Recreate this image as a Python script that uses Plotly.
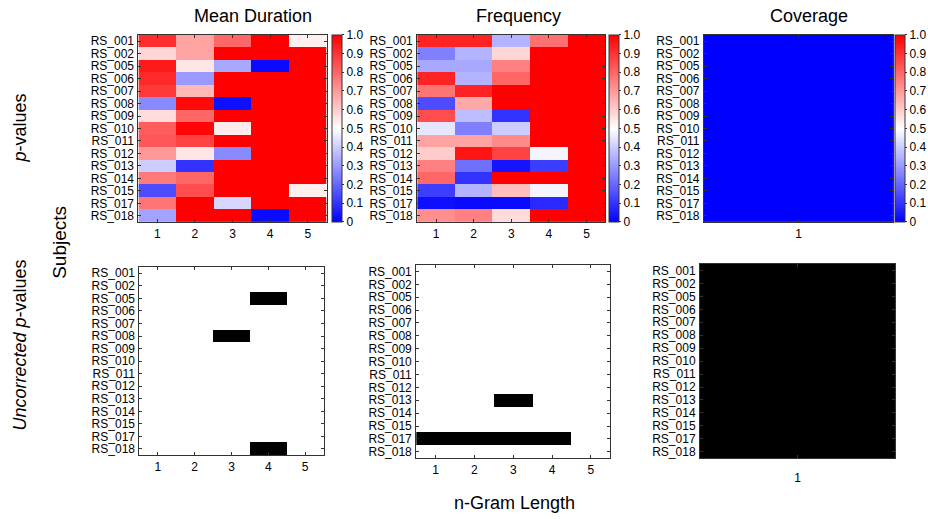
import plotly.graph_objects as go

W, H = 928, 519

subjects = ["RS_001", "RS_002", "RS_005", "RS_006", "RS_007", "RS_008", "RS_009",
            "RS_010", "RS_011", "RS_012", "RS_013", "RS_014", "RS_015", "RS_017", "RS_018"]
ngram = [1, 2, 3, 4, 5]
coverage_x = [1]

mean_duration_p = [
    [0.91, 0.68, 0.80, 1.00, 0.53],
    [0.58, 0.68, 1.00, 1.00, 1.00],
    [0.95, 0.55, 0.33, 0.02, 1.00],
    [0.92, 0.30, 1.00, 1.00, 1.00],
    [0.89, 0.64, 1.00, 1.00, 1.00],
    [0.27, 0.98, 0.03, 1.00, 1.00],
    [0.57, 0.80, 1.00, 1.00, 1.00],
    [0.82, 0.99, 0.54, 1.00, 1.00],
    [0.83, 0.87, 1.00, 1.00, 1.00],
    [0.70, 0.55, 0.27, 1.00, 1.00],
    [0.40, 0.10, 1.00, 1.00, 1.00],
    [0.76, 0.80, 1.00, 1.00, 1.00],
    [0.15, 0.85, 1.00, 1.00, 0.53],
    [0.77, 1.00, 0.42, 1.00, 1.00],
    [0.32, 1.00, 1.00, 0.02, 1.00],
]

frequency_p = [
    [0.93, 0.93, 0.35, 0.78, 1.00],
    [0.25, 0.35, 0.58, 1.00, 1.00],
    [0.33, 0.33, 0.75, 1.00, 1.00],
    [0.93, 0.35, 0.80, 1.00, 1.00],
    [0.77, 0.93, 1.00, 1.00, 1.00],
    [0.15, 0.67, 1.00, 1.00, 1.00],
    [0.85, 0.37, 0.10, 1.00, 1.00],
    [0.45, 0.25, 0.40, 1.00, 1.00],
    [0.68, 0.68, 0.73, 1.00, 1.00],
    [0.60, 0.96, 0.87, 0.48, 1.00],
    [0.75, 0.22, 0.04, 0.12, 1.00],
    [0.80, 0.10, 1.00, 1.00, 1.00],
    [0.12, 0.35, 0.63, 0.48, 1.00],
    [0.03, 0.02, 0.02, 0.08, 1.00],
    [0.72, 0.75, 0.57, 1.00, 1.00],
]

coverage_p = [[0.0], [0.0], [0.0], [0.0], [0.0], [0.0], [0.0], [0.0],
              [0.0], [0.0], [0.0], [0.0], [0.0], [0.0], [0.0]]

# uncorrected significance (1 = significant -> black)
mean_duration_sig = [
    [0, 0, 0, 0, 0],
    [0, 0, 0, 0, 0],
    [0, 0, 0, 1, 0],
    [0, 0, 0, 0, 0],
    [0, 0, 0, 0, 0],
    [0, 0, 1, 0, 0],
    [0, 0, 0, 0, 0],
    [0, 0, 0, 0, 0],
    [0, 0, 0, 0, 0],
    [0, 0, 0, 0, 0],
    [0, 0, 0, 0, 0],
    [0, 0, 0, 0, 0],
    [0, 0, 0, 0, 0],
    [0, 0, 0, 0, 0],
    [0, 0, 0, 1, 0],
]
frequency_sig = [
    [0, 0, 0, 0, 0],
    [0, 0, 0, 0, 0],
    [0, 0, 0, 0, 0],
    [0, 0, 0, 0, 0],
    [0, 0, 0, 0, 0],
    [0, 0, 0, 0, 0],
    [0, 0, 0, 0, 0],
    [0, 0, 0, 0, 0],
    [0, 0, 0, 0, 0],
    [0, 0, 0, 0, 0],
    [0, 0, 1, 0, 0],
    [0, 0, 0, 0, 0],
    [0, 0, 0, 0, 0],
    [1, 1, 1, 1, 0],
    [0, 0, 0, 0, 0],
]
coverage_sig = [[1], [1], [1], [1], [1], [1], [1], [1],
                [1], [1], [1], [1], [1], [1], [1]]

cb_vals = [0, 0.1, 0.2, 0.3, 0.4, 0.5, 0.6, 0.7, 0.8, 0.9, 1.0]
cb_text = ["0", "0.1", "0.2", "0.3", "0.4", "0.5", "0.6", "0.7", "0.8", "0.9", "1.0"]

titles = ["Mean Duration", "Frequency", "Coverage"]

FONT = "Liberation Sans, Arial, sans-serif"
bwr = [[0, "rgb(0,0,255)"], [0.5, "rgb(255,255,255)"], [1, "rgb(255,0,0)"]]
bw = [[0, "rgb(255,255,255)"], [1, "rgb(0,0,0)"]]

def px_x(x):
    return x / W

def px_y(y):
    return 1 - y / H

# panel boxes in pixels: (x0, x1, y0, y1)
panels = [
    (139, 328, 34, 222),
    (419, 608, 34, 222),
    (707, 897, 34, 222),
    (140, 325, 267, 456),
    (418, 613, 265, 459),
    (703, 899, 264, 459),
]
colorbars_x = [333, 612, 899]

fig = go.Figure()

top_data = [(ngram, mean_duration_p), (ngram, frequency_p), (coverage_x, coverage_p)]
bot_data = [(ngram, mean_duration_sig), (ngram, frequency_sig), (coverage_x, coverage_sig)]

for i, (xs, z) in enumerate(top_data):
    x0, x1, y0, y1 = panels[i]
    fig.add_trace(go.Heatmap(
        x=xs, y=subjects, z=z, colorscale=bwr, zmin=0, zmax=1,
        xaxis=f"x{i+1}", yaxis=f"y{i+1}", hoverongaps=False,
        colorbar=dict(
            x=px_x(colorbars_x[i]), xanchor="left", xref="paper", xpad=0,
            y=px_y(y0), yanchor="top", ypad=0, len=(y1 - y0) / H, lenmode="fraction",
            thickness=10, thicknessmode="pixels",
            outlinewidth=1, outlinecolor="#333333",
            tickvals=cb_vals, ticktext=cb_text, ticks="outside", ticklen=2,
            tickcolor="#333333",
            tickfont=dict(family=FONT, size=12, color="black"),
        ),
    ))

for i, (xs, z) in enumerate(bot_data):
    fig.add_trace(go.Heatmap(
        x=xs, y=subjects, z=z, colorscale=bw, zmin=0, zmax=1, showscale=False,
        xaxis=f"x{i+4}", yaxis=f"y{i+4}",
    ))

layout = dict(
    width=W, height=H, margin=dict(l=0, r=0, t=0, b=0),
    paper_bgcolor="white", plot_bgcolor="white", showlegend=False,
    font=dict(family=FONT, size=12, color="black"),
)

for i, (x0, x1, y0, y1) in enumerate(panels):
    n = i + 1
    is_cov = (i % 3 == 2)
    axis_common = dict(showline=True, linecolor="#333333", linewidth=1, mirror="ticks",
                       ticks="inside", ticklen=3, tickcolor="#333333",
                       showgrid=False, zeroline=False,
                       tickfont=dict(family=FONT, size=12, color="black"))
    if is_cov:
        xax = dict(domain=[px_x(x0), px_x(x1)], anchor=f"y{n}",
                   range=[0.5, 1.5], tickmode="array", tickvals=coverage_x, **axis_common)
    else:
        xax = dict(domain=[px_x(x0), px_x(x1)], anchor=f"y{n}",
                   range=[0.5, 5.5], tickmode="array", tickvals=ngram, **axis_common)
    if i == 5:
        xax["ticklabelstandoff"] = 8
    yax = dict(domain=[px_y(y1), px_y(y0)], anchor=f"x{n}",
               autorange="reversed", type="category", tickmode="array",
               tickvals=subjects, ticktext=subjects, ticklabelstandoff=1,
               **axis_common)
    layout[f"xaxis{n}" if n > 1 else "xaxis"] = xax
    layout[f"yaxis{n}" if n > 1 else "yaxis"] = yax

fig.update_layout(**layout)

annos = []
title_centers = [254, 521, 813]
for t, cx in zip(titles, title_centers):
    annos.append(dict(text=t, x=px_x(cx), y=px_y(15), xref="paper", yref="paper",
                      xanchor="center", yanchor="middle", showarrow=False,
                      font=dict(family=FONT, size=18, color="black")))
annos.append(dict(text="n-Gram Length", x=px_x(517), y=px_y(504), xref="paper", yref="paper",
                  xanchor="center", yanchor="middle", showarrow=False,
                  font=dict(family=FONT, size=18, color="black")))
annos.append(dict(text="<i>p</i>-values", x=px_x(20), y=px_y(127), xref="paper", yref="paper",
                  xanchor="center", yanchor="middle", showarrow=False, textangle=-90,
                  font=dict(family=FONT, size=18, color="black")))
annos.append(dict(text="Subjects", x=px_x(59), y=px_y(242), xref="paper", yref="paper",
                  xanchor="center", yanchor="middle", showarrow=False, textangle=-90,
                  font=dict(family=FONT, size=19, color="black")))
annos.append(dict(text="<i>Uncorrected p</i>-values", x=px_x(20), y=px_y(345), xref="paper", yref="paper",
                  xanchor="center", yanchor="middle", showarrow=False, textangle=-90,
                  font=dict(family=FONT, size=18, color="black")))
fig.update_layout(annotations=annos)

fig.write_html("out.html")
